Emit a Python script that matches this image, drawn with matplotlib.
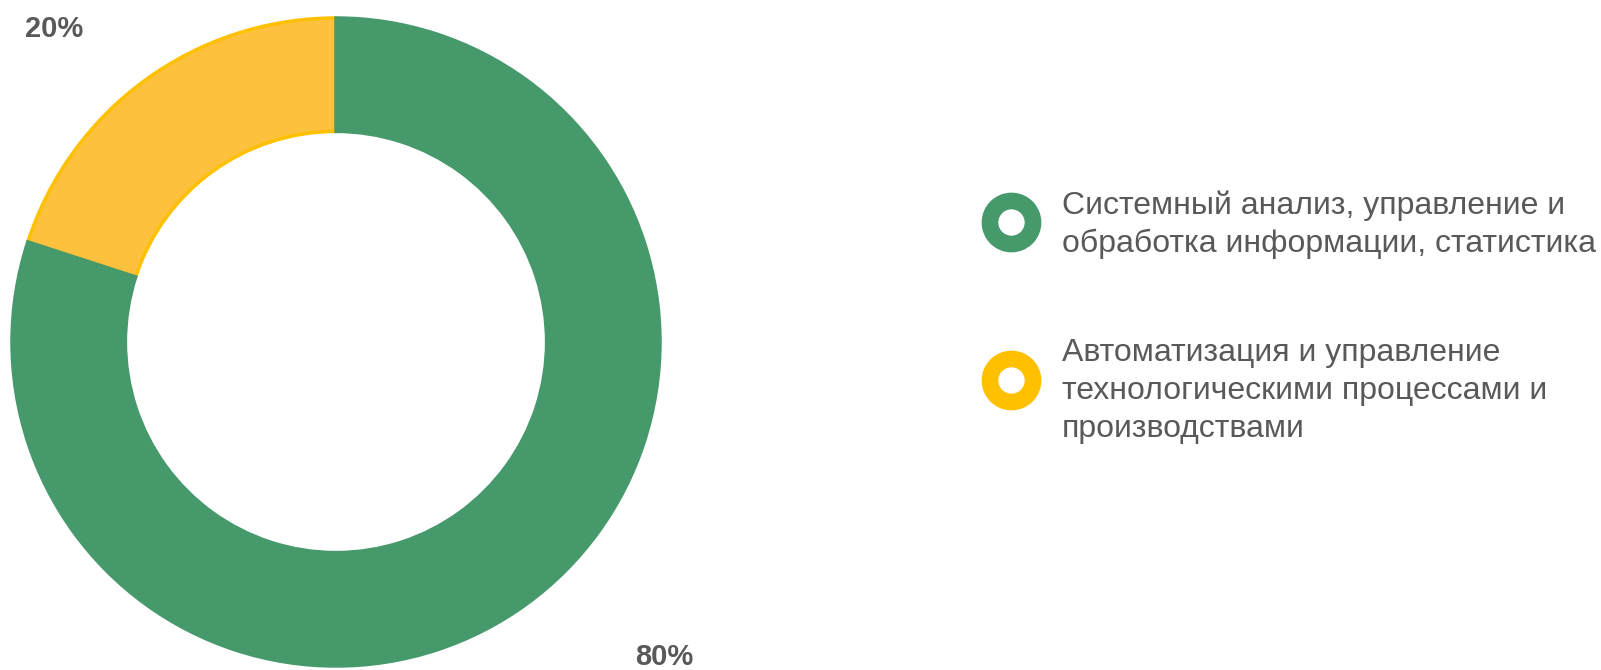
import matplotlib.pyplot as plt

plt.rcParams['font.family'] = ['Liberation Sans', 'DejaVu Sans']

labels = [
    "Автоматизация и управление\nтехнологическими процессами и\nпроизводствами",
    "Системный анализ, управление и\nобработка информации, статистика",
]
values = [20, 80]
fills = ["#FDC13D", "#46996A"]
edges = ["#FFC000", "#46996A"]
text_color = "#595959"

W, H = 1601, 670
fig = plt.figure(figsize=(W / 100, H / 100), dpi=100)

# donut: center (336, 342), radius 324 px
cx, cy, r = 336, 342, 324
ax = fig.add_axes([(cx - r) / W, (H - cy - r) / H, 2 * r / W, 2 * r / H])
wedges, _ = ax.pie(values, colors=fills, startangle=90, counterclock=True,
                   radius=1, wedgeprops=dict(width=0.35, linewidth=2.5))
for w, ec in zip(wedges, edges):
    w.set_edgecolor(ec)
ax.set_aspect('equal')
ax.set_xlim(-1, 1)
ax.set_ylim(-1, 1)
ax.axis('off')

# percentage labels
pct_pos = [(-0.87, 0.965), (1.012, -0.972)]
total = sum(values)
for v, (px, py) in zip(values, pct_pos):
    ax.text(px, py, f"{v / total:.0%}", ha='center', va='center',
            fontsize=21, fontweight='bold', color=text_color)

# legend drawn in pixel coordinates
lax = fig.add_axes([0, 0, 1, 1])
lax.set_xlim(0, W)
lax.set_ylim(H, 0)
lax.axis('off')
legend_items = [
    (labels[1], edges[1], 222, 225),
    (labels[0], edges[0], 380, 391),
]
for text, col, my, ty in legend_items:
    lax.plot([1011], [my], marker='o', markersize=31, markerfacecolor='white',
             markeredgecolor=col, markeredgewidth=12)
    lax.text(1062, ty, text, ha='left', va='center', fontsize=23,
             color=text_color, linespacing=1.33)

fig.savefig('out.png', dpi=100)
